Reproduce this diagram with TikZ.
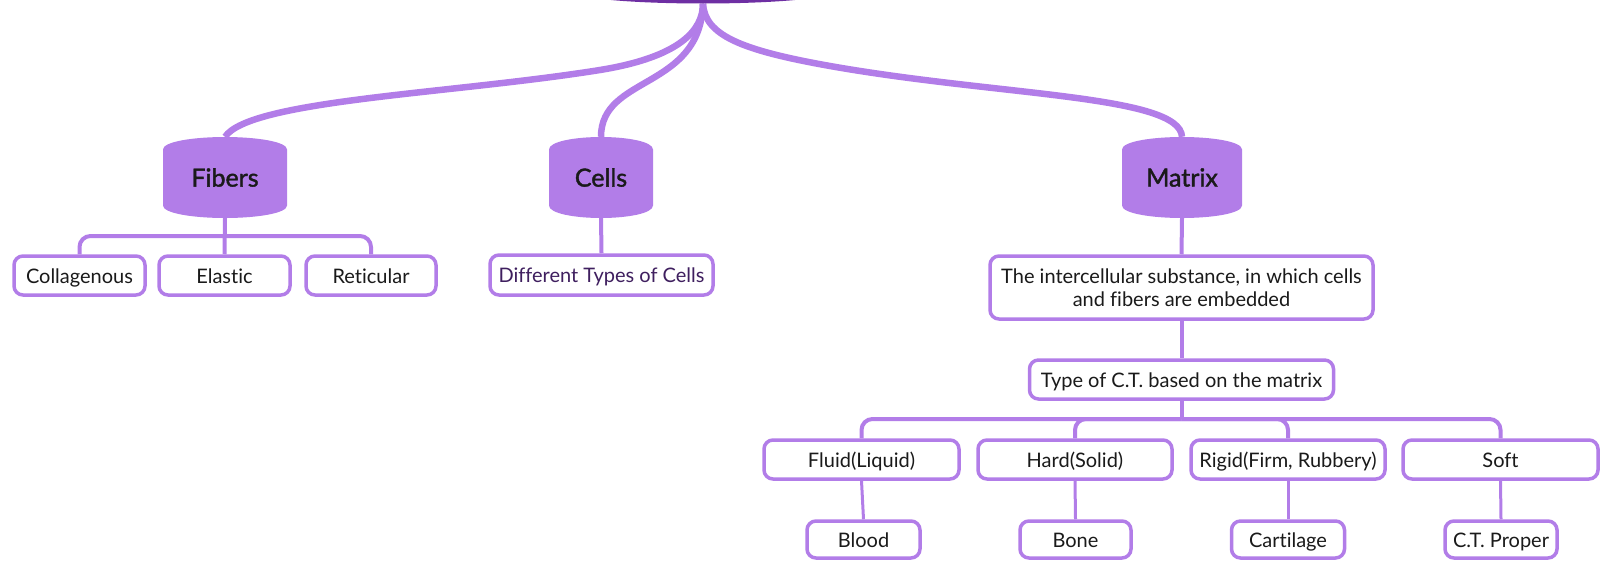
\documentclass[tikz,border=0pt]{standalone}
\usepackage{fontspec}
\setmainfont{Lato}[Ligatures=NoCommon]
\newfontfamily\headfont{Lato}[FakeBold=1.6,Ligatures=NoCommon]
\usetikzlibrary{calc}
\definecolor{lp}{HTML}{B27DE8}
\definecolor{dp}{HTML}{6E2FA3}
\definecolor{txt}{HTML}{1A1A1A}
\definecolor{ptxt}{HTML}{3F1F5F}
\pgfdeclarelayer{bg}
\pgfsetlayers{bg,main}
\tikzset{
  box/.style={draw=lp, line width=3.5pt, fill=white, rounded corners=9pt,
    font=\fontsize{20}{23}\selectfont, text=txt, inner sep=0pt,
    text height=19pt, text depth=4pt, align=center},
  conn/.style={draw=lp, line width=4pt, rounded corners=11pt},
  thinconn/.style={draw=lp, line width=3pt},
  curve/.style={draw=lp, line width=6.5pt},
  headtext/.style={draw=none, inner sep=0pt, font=\headfont\fontsize{25}{28}\selectfont, text=txt},
}
% #1 name, #2 x, #3 y, #4 half width, #5 fill, #6 text
\newcommand\barrelnode[6]{%
  \fill[#5] (#2-#4,#3-28) .. controls (#2-#4,#3-36) and (#2-#4*0.5,#3-40.5) .. (#2,#3-40.5)
    .. controls (#2+#4*0.5,#3-40.5) and (#2+#4,#3-36) .. (#2+#4,#3-28)
    -- (#2+#4,#3+28) .. controls (#2+#4,#3+36) and (#2+#4*0.5,#3+40.5) .. (#2,#3+40.5)
    .. controls (#2-#4*0.5,#3+40.5) and (#2-#4,#3+36) .. (#2-#4,#3+28) -- cycle;
  \node[headtext, minimum width=2*#4 pt, minimum height=81pt] (#1) at (#2,#3) {#6};}
\begin{document}
\begin{tikzpicture}[x=1pt,y=-1pt]
\useasboundingbox (0,0) rectangle (1606,562);
% root and heads
\barrelnode{root}{703}{-37}{130}{dp}{}
\barrelnode{fibers}{225}{177.5}{62}{lp}{Fibers}
\barrelnode{cells}{601}{177.5}{52}{lp}{Cells}
\barrelnode{matrix}{1182}{177.5}{60}{lp}{Matrix}
% boxes
\node[box, minimum width=131pt, minimum height=39pt] (coll) at (79.5,275.5) {Collagenous};
\node[box, minimum width=131pt, minimum height=39pt] (elas) at (224.5,275.5) {Elastic};
\node[box, minimum width=130pt, minimum height=39pt] (reti) at (371,275.5) {Reticular};
\node[box, minimum width=223pt, minimum height=40pt, text=ptxt] (diff) at (601.5,275) {Different Types of Cells};
\node[box, minimum width=383pt, minimum height=63pt, text height=, text depth=] (inter) at (1181.5,287.5) {The intercellular substance, in which cells\\and fibers are embedded};
\node[box, minimum width=304pt, minimum height=39pt] (type) at (1181.5,379.5) {Type of C.T. based on the matrix};
\node[box, minimum width=195pt, minimum height=39pt] (fluid) at (861.5,459.5) {Fluid(Liquid)};
\node[box, minimum width=194pt, minimum height=39pt] (hard) at (1075,459.5) {Hard(Solid)};
\node[box, minimum width=194pt, minimum height=39pt] (rigid) at (1288,459.5) {Rigid(Firm, Rubbery)};
\node[box, minimum width=195pt, minimum height=39pt] (soft) at (1500.5,459.5) {Soft};
\node[box, minimum width=113pt, minimum height=37pt] (blood) at (863.5,539.5) {Blood};
\node[box, minimum width=111pt, minimum height=37pt] (bone) at (1075.5,539.5) {Bone};
\node[box, minimum width=113pt, minimum height=37pt] (cart) at (1288,539.5) {Cartilage};
\node[box, minimum width=112pt, minimum height=37pt] (ctp) at (1501,539.5) {C.T. Proper};
\coordinate (fb) at (225,236);
\coordinate (tb) at (1181.5,419);
\begin{pgfonlayer}{bg}
  % root curves
  \draw[curve] (root.south) .. controls (703,30) and (680,57) .. (600,70)
     .. controls (450,94) and (250,100) .. (fibers.north);
  \draw[curve] (root.south) .. controls (700,90) and (601,75) .. (cells.north);
  \draw[curve] (root.south) .. controls (705,35) and (740,50) .. (830,66)
     .. controls (1000,96) and (1180,95) .. (matrix.north);
  % fibers
  \draw[conn] (fibers.south) -- (elas.north);
  \draw[conn] (fb) -| (coll.north);
  \draw[conn] (fb) -| (reti.north);
  % cells
  \draw[conn] (cells.south) -- (diff.north);
  % matrix
  \draw[conn] (matrix.south) -- (inter.north);
  \draw[conn] (inter.south) -- (type.north);
  \draw[conn] (type.south) -- (tb);
  \draw[conn] (tb) -| (fluid.north);
  \draw[conn] (tb) -| (hard.north);
  \draw[conn] (tb) -| (rigid.north);
  \draw[conn] (tb) -| (soft.north);
  \draw[thinconn] (fluid.south) -- (blood.north);
  \draw[thinconn] (hard.south) -- (bone.north);
  \draw[thinconn] (rigid.south) -- (cart.north);
  \draw[thinconn] (soft.south) -- (ctp.north);
\end{pgfonlayer}
\end{tikzpicture}
\end{document}
